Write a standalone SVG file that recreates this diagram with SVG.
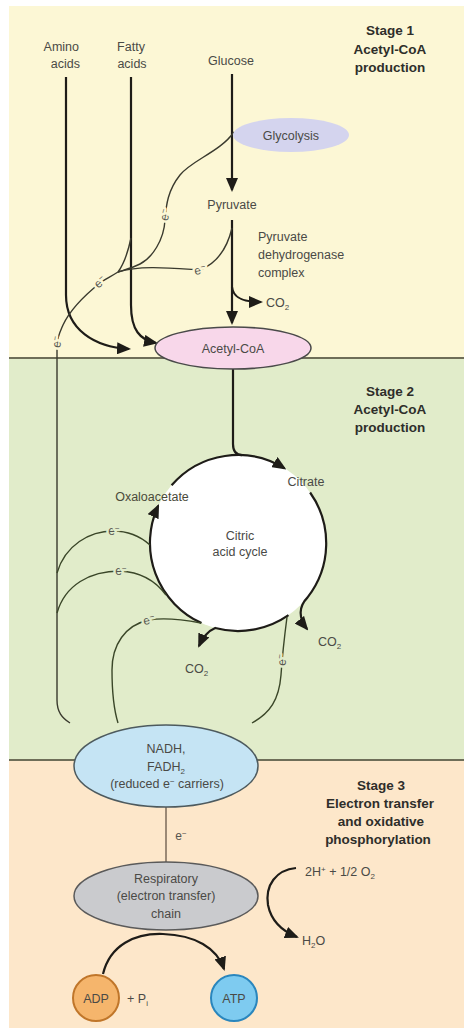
<svg xmlns="http://www.w3.org/2000/svg" width="464" height="1028" viewBox="0 0 464 1028">
<defs>
<marker id="ah" markerUnits="userSpaceOnUse" markerWidth="14" markerHeight="12" viewBox="0 0 14 12" refX="12" refY="6" orient="auto"><path d="M0,0 L14,6 L0,12 z" fill="#1e1c18"/></marker>
<style>
.t{font-family:"Liberation Sans",Arial,sans-serif;font-size:12.5px;fill:#4a4a46;text-anchor:middle}
.tl{text-anchor:start}
.st{font-family:"Liberation Sans",Arial,sans-serif;font-size:13.5px;font-weight:bold;fill:#2e2e2a;text-anchor:middle}
.main{fill:none;stroke:#1e1c18;stroke-width:2.2}
.el{fill:none;stroke:#3a3a2e;stroke-width:1.4}
.el2{fill:none;stroke:#3a4628;stroke-width:1.4}
.e{font-family:"Liberation Sans",Arial,sans-serif;font-size:12px;fill:#55554f;text-anchor:middle;paint-order:stroke;stroke-width:5;stroke-linejoin:round}
.e1{stroke:#fcf7d5}
.e2{stroke:#e1ecca}
.sb{font-size:8px}
</style>
</defs>
<rect width="464" height="1028" fill="#ffffff"/>
<rect x="9" y="6" width="455" height="352" fill="#fcf7d5"/>
<rect x="9" y="358" width="455" height="402" fill="#e1ecca"/>
<rect x="9" y="760" width="455" height="268" fill="#fde7ca"/>
<line x1="9" y1="358" x2="464" y2="358" stroke="#6e6e58" stroke-width="1.8"/>
<line x1="9" y1="760" x2="464" y2="760" stroke="#6e6e58" stroke-width="1.8"/>

<g id="stage-labels">
<text class="st" x="390" y="35">Stage 1</text>
<text class="st" x="390" y="54">Acetyl-CoA</text>
<text class="st" x="390" y="72">production</text>
<text class="st" x="390" y="396">Stage 2</text>
<text class="st" x="390" y="414">Acetyl-CoA</text>
<text class="st" x="390" y="432">production</text>
<text class="st" x="381" y="790">Stage 3</text>
<text class="st" x="380" y="808">Electron transfer</text>
<text class="st" x="381" y="826">and oxidative</text>
<text class="st" x="378" y="844">phosphorylation</text>
</g>

<g id="cycle">
<circle cx="238" cy="543" r="88" fill="#ffffff"/>
<text class="t" x="240" y="540">Citric</text>
<text class="t" x="240" y="556">acid cycle</text>
</g>

<g id="connectors">
<path class="main" d="M66,77 V295 C66,330 95,347 129,349" marker-end="url(#ah)"/>
<path class="main" d="M131,77 V305 C131,330 140,340 156,343" marker-end="url(#ah)"/>
<path class="main" d="M232,74 V190" marker-end="url(#ah)"/>
<path class="main" d="M232,220 V323" marker-end="url(#ah)"/>
<path class="main" d="M232,287 C233,298 243,302 261,302" marker-end="url(#ah)"/>
<path class="main" d="M233,369 V444 C233,451 236,455 242,455.1"/>
<path class="main" d="M171.6,485.3 A88,88 0 0 1 284.6,468.4" marker-end="url(#ah)"/>
<path class="main" d="M310.1,492.5 A88,88 0 0 1 307.4,597.6 C299,606 298,618 307,629" marker-end="url(#ah)"/>
<path class="main" d="M288.5,615.1 A88,88 0 0 1 215.2,628 C208,631 203,637 199,646" marker-end="url(#ah)"/>
<path class="main" d="M201.5,623.1 A88,88 0 0 1 158.2,505.8" marker-end="url(#ah)"/>
<path d="M166,807 V862" fill="none" stroke="#7a6a58" stroke-width="1.5"/>
<path class="main" d="M103,974 C110,945 135,933 163,934 C195,935 217,948 224,969" marker-end="url(#ah)"/>
<path class="main" d="M296,868 C276,870 265,885 268,905 C271,920 282,931 297,937" marker-end="url(#ah)"/>

<path class="el" d="M234,132 C220,152 192,160 180,175 C168,190 166,205 165,220 C164,240 152,258 140,264 C132,268 124,270 118,272"/>
<path class="el" d="M131,238 C128,252 124,264 118,272"/>
<path class="el" d="M232,228 C228,245 220,262 200,270 C170,268 140,265 118,272"/>
<path class="el" d="M118,272 C110,277 104,280 100,283 C85,295 70,310 63,325 C60,332 57,338 57,345 V700 C57,712 62,718 70,723"/>
<path class="el2" d="M150,545 C140,536 128,531 113,531 C90,531 65,545 57,573"/>
<path class="el2" d="M166,595 C155,580 140,572 120,571 C90,571 65,585 57,613"/>
<path class="el2" d="M201,623 C180,619 160,618 149,620 C125,625 112,645 112,670 C112,695 114,710 118,723"/>
<path class="el2" d="M287,617 C284,640 282,660 281,675 C279,700 270,713 252,723"/>

<text class="e e1" transform="translate(165,215) rotate(-75)" x="0" y="4">e<tspan dy="-4" font-size="8">−</tspan></text>
<text class="e e1" transform="translate(200,270) rotate(-10)" x="0" y="4">e<tspan dy="-4" font-size="8">−</tspan></text>
<text class="e e1" transform="translate(100,282) rotate(-40)" x="0" y="4">e<tspan dy="-4" font-size="8">−</tspan></text>
<text class="e e1" transform="translate(57,342) rotate(-80)" x="0" y="4">e<tspan dy="-4" font-size="8">−</tspan></text>
<text class="e e2" transform="translate(114,531)" x="0" y="4">e<tspan dy="-4" font-size="8">−</tspan></text>
<text class="e e2" transform="translate(121,571)" x="0" y="4">e<tspan dy="-4" font-size="8">−</tspan></text>
<text class="e e2" transform="translate(149,620) rotate(-10)" x="0" y="4">e<tspan dy="-4" font-size="8">−</tspan></text>
<text class="e e2" transform="translate(282,660) rotate(-85)" x="0" y="4">e<tspan dy="-4" font-size="8">−</tspan></text>
<text class="e" x="181" y="840" style="stroke:none">e<tspan dy="-4" font-size="8">−</tspan></text>
</g>

<g id="amino-acids">
<text class="t" x="79" y="51" style="text-anchor:end">Amino</text>
<text class="t" x="80" y="68" style="text-anchor:end">acids</text>
</g>
<g id="fatty-acids">
<text class="t" x="131" y="51">Fatty</text>
<text class="t" x="132" y="68">acids</text>
</g>
<g id="glucose">
<text class="t" x="231" y="65">Glucose</text>
</g>
<g id="glycolysis">
<ellipse cx="291" cy="135" rx="58" ry="17" fill="#d4d4ee"/>
<text class="t" x="291" y="140">Glycolysis</text>
</g>
<g id="pyruvate">
<text class="t" x="232" y="209">Pyruvate</text>
</g>
<g id="pdh">
<text class="t tl" x="258" y="241">Pyruvate</text>
<text class="t tl" x="258" y="259">dehydrogenase</text>
<text class="t tl" x="258" y="277">complex</text>
</g>
<g id="co2-1">
<text class="t tl" x="266" y="307">CO<tspan dy="3" class="sb">2</tspan></text>
</g>
<g id="acetyl-coa">
<ellipse cx="233" cy="348" rx="78" ry="21" fill="#f8d7ea" stroke="#4a4a4a" stroke-width="1.5"/>
<text class="t" x="233" y="353">Acetyl-CoA</text>
</g>
<g id="citrate">
<text class="t" x="306" y="486">Citrate</text>
</g>
<g id="oxaloacetate">
<text class="t" x="152" y="501" style="fill:#4a4a3a">Oxaloacetate</text>
</g>
<g id="co2-2">
<text class="t tl" x="318" y="646">CO<tspan dy="3" class="sb">2</tspan></text>
</g>
<g id="co2-3">
<text class="t tl" x="185" y="673">CO<tspan dy="3" class="sb">2</tspan></text>
</g>
<g id="nadh">
<ellipse cx="166" cy="766" rx="92" ry="41" fill="#c5e4f4" stroke="#4d5a5e" stroke-width="1.5"/>
<text class="t" x="166" y="753">NADH,</text>
<text class="t" x="166" y="771">FADH<tspan dy="3" class="sb">2</tspan></text>
<text class="t" x="167" y="788">(reduced e<tspan dy="-4" class="sb">−</tspan><tspan dy="4"> carriers)</tspan></text>
</g>
<g id="respiratory-chain">
<ellipse cx="166" cy="896" rx="92" ry="34" fill="#cacbce" stroke="#5a5a5a" stroke-width="1.5"/>
<text class="t" x="166" y="883">Respiratory</text>
<text class="t" x="166" y="900">(electron transfer)</text>
<text class="t" x="166" y="918">chain</text>
</g>
<g id="oxygen">
<text class="t tl" x="305" y="876">2H<tspan dy="-4" class="sb">+</tspan><tspan dy="4"> + 1/2 O</tspan><tspan dy="3" class="sb">2</tspan></text>
</g>
<g id="water">
<text class="t tl" x="302" y="945">H<tspan dy="3" class="sb">2</tspan><tspan dy="-3">O</tspan></text>
</g>
<g id="adp">
<circle cx="96" cy="998" r="23" fill="#f5b56c" stroke="#c0762a" stroke-width="2"/>
<text class="t" x="96" y="1003">ADP</text>
</g>
<g id="pi">
<text class="t tl" x="127" y="1003">+ P<tspan dy="3" class="sb">i</tspan></text>
</g>
<g id="atp">
<circle cx="234" cy="998" r="23" fill="#7ecbf0" stroke="#2a86bd" stroke-width="2"/>
<text class="t" x="234" y="1003">ATP</text>
</g>
</svg>
